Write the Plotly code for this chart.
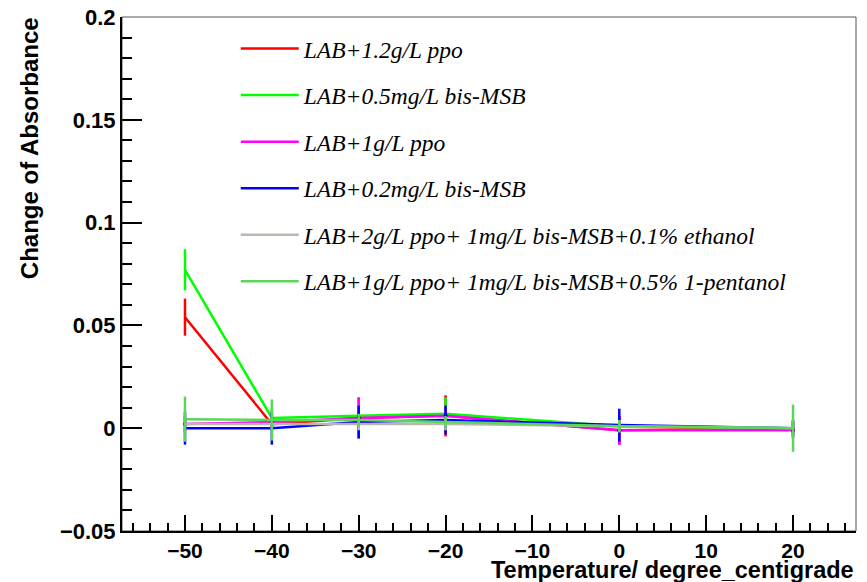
import plotly.graph_objects as go

temperature = [-50, -40, -30, -20, 0, 20]

names = [
    "LAB+1.2g/L ppo",
    "LAB+0.5mg/L bis-MSB",
    "LAB+1g/L ppo",
    "LAB+0.2mg/L bis-MSB",
    "LAB+2g/L ppo+ 1mg/L bis-MSB+0.1% ethanol",
    "LAB+1g/L ppo+ 1mg/L bis-MSB+0.5% 1-pentanol",
]
ppo12 = [0.054, 0.002, 0.005, 0.006, -0.001, 0.0]
ppo12_err = [0.009, 0.003, 0.004, 0.010, 0.007, 0.003]
msb05 = [0.077, 0.005, 0.006, 0.007, 0.001, 0.0]
msb05_err = [0.010, 0.005, 0.009, 0.008, 0.004, 0.004]
ppo1 = [0.002, 0.003, 0.005, 0.006, -0.001, -0.001]
ppo1_err = [0.004, 0.004, 0.010, 0.004, 0.007, 0.004]
msb02 = [0.0, 0.0, 0.003, 0.004, 0.0015, 0.0]
msb02_err = [0.008, 0.008, 0.008, 0.007, 0.008, 0.004]
ethanol = [0.002, 0.002, 0.002, 0.002, 0.001, 0.0]
ethanol_err = [0.003, 0.003, 0.003, 0.003, 0.003, 0.003]
pentanol = [0.0044, 0.004, 0.004, 0.003, 0.001, 0.0]
pentanol_err = [0.011, 0.010, 0.003, 0.003, 0.003, 0.0115]

series = [ppo12, msb05, ppo1, msb02, ethanol, pentanol]
errors = [ppo12_err, msb05_err, ppo1_err, msb02_err, ethanol_err, pentanol_err]
colors = ["#ff0000", "#00ff00", "#ff00ff", "#0000ff", "#bdb6ad", "#5ad75a"]

fig = go.Figure()
for i, (nm, ys, es, c) in enumerate(zip(names, series, errors, colors)):
    fig.add_trace(go.Scatter(
        x=temperature, y=ys, name=nm, mode="lines",
        line=dict(color=c, width=2.5),
        error_y=dict(type="data", array=es, visible=True, color=c, thickness=2.5, width=0),
        legendgroup=f"g{i}",
    ))
    if i == 2:
        fig.add_trace(go.Scatter(
            x=temperature, y=ys, mode="markers", showlegend=False,
            marker=dict(color="black", size=4), legendgroup=f"g{i}",
        ))

axis_font = dict(family="Liberation Sans", size=22, color="black", weight="bold")
xaxis_font = dict(family="Liberation Sans", size=21, color="black", weight="bold")
title_font = dict(family="Liberation Sans", size=23.5, color="black", weight="bold")

fig.update_layout(
    width=867, height=582,
    margin=dict(l=122, r=11, t=17, b=51, autoexpand=False),
    paper_bgcolor="white", plot_bgcolor="white",
    showlegend=True,
    legend=dict(
        x=0.155, y=0.981, xanchor="left", yanchor="top",
        bgcolor="rgba(0,0,0,0)", borderwidth=0,
        font=dict(family="Liberation Serif", size=23.5, color="black", style="italic"),
        tracegroupgap=13, itemwidth=58,
    ),
    xaxis=dict(
        range=[-57.25, 27.25], showgrid=False, zeroline=False, automargin=False,
        showline=True, linecolor="black", linewidth=2,
        ticks="inside", ticklen=16, tickwidth=2, tickcolor="black",
        tickvals=[-50, -40, -30, -20, -10, 0, 10, 20],
        ticktext=["\u221250", "\u221240", "\u221230", "\u221220", "\u221210", "0", "10", "20"],
        tickfont=xaxis_font, ticklabelstandoff=0,
        minor=dict(ticks="inside", ticklen=8, tickwidth=2, tickcolor="black", dtick=2, tick0=0),
    ),
    yaxis=dict(
        range=[-0.05, 0.2], showgrid=False, zeroline=False, automargin=False,
        showline=True, linecolor="black", linewidth=2,
        ticks="inside", ticklen=20, tickwidth=2, tickcolor="black",
        tickvals=[-0.05, 0, 0.05, 0.1, 0.15, 0.2],
        ticktext=["\u22120.05", "0", "0.05", "0.1", "0.15", "0.2"],
        tickfont=axis_font,
        minor=dict(ticks="inside", ticklen=10, tickwidth=2, tickcolor="black", dtick=0.01, tick0=0),
    ),
    shapes=[dict(type="rect", xref="paper", yref="paper", x0=0, y0=0, x1=1, y1=1,
                 line=dict(color="#555555", width=1), layer="below")],
    annotations=[
        dict(text="Change of Absorbance", xref="paper", yref="paper",
             x=-0.125, y=1.004, xanchor="center", yanchor="top", textangle=-90,
             showarrow=False, font=dict(family="Liberation Sans", size=24, color="black", weight="bold")),
        dict(text="Temperature/ degree_centigrade", xref="paper", yref="paper",
             x=1.0, y=-0.075, xanchor="right", yanchor="middle",
             showarrow=False, font=title_font),
    ],
)

fig.write_html(
    "out.html",
    config={"displayModeBar": False},
    post_script="document.body.style.margin='0';document.body.style.overflow='hidden';",
)
